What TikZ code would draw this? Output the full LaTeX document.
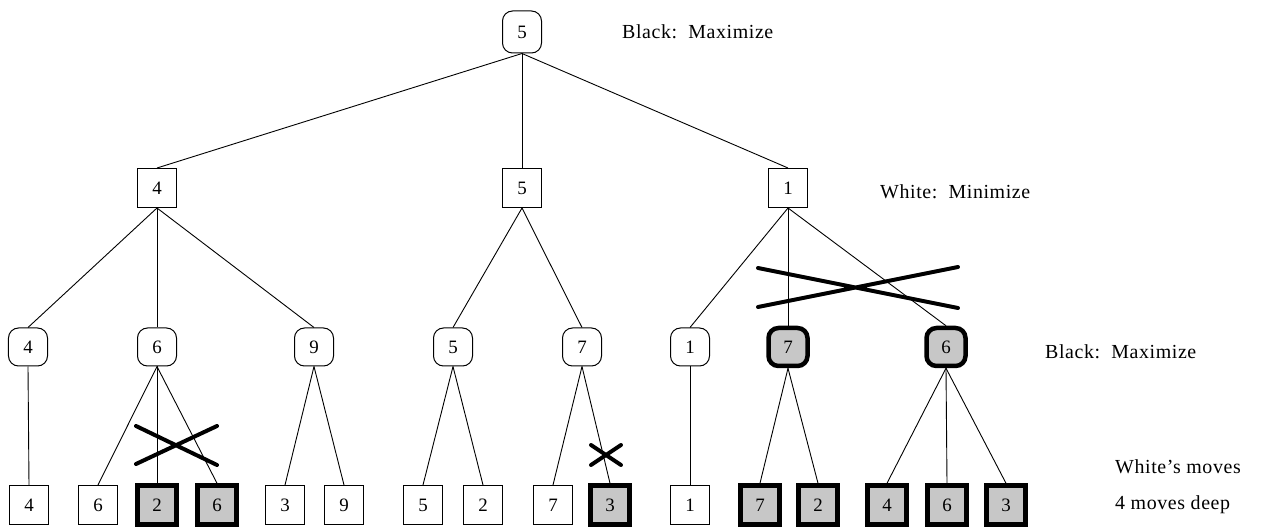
\documentclass[tikz,border=0pt]{standalone}
\usepackage{fontspec}
\setmainfont{Liberation Serif}
\begin{document}
\begin{tikzpicture}[x=1bp,y=-1bp,
  every node/.style={font=\fontsize{19}{22}\selectfont, inner sep=0pt},
  minbox/.style={draw, line width=1bp, minimum width=39bp, minimum height=39bp},
  maxbox/.style={draw, line width=1bp, rounded corners=10bp, minimum width=39bp, minimum height=38bp},
  hot/.style={line width=4.5bp, fill=black!22},
  edge/.style={line width=0.9bp},
  cross/.style={line width=4bp, line cap=round},
  lbl/.style={anchor=west, font=\fontsize{20}{24}\selectfont\addfontfeature{LetterSpace=3}}]
\useasboundingbox (0,0) rectangle (1271,527);

% root: Black to move
\node[maxbox, minimum height=42bp] (r) at (522,32) {5};

% White replies
\node[minbox] (a) at (157,188) {4};
\node[minbox] (b) at (522,188) {5};
\node[minbox] (c) at (788,188) {1};

% Black replies
\node[maxbox] (a1) at (28,347) {4};
\node[maxbox] (a2) at (157,347) {6};
\node[maxbox] (a3) at (314,347) {9};
\node[maxbox] (b1) at (453,347) {5};
\node[maxbox] (b2) at (582,347) {7};
\node[maxbox] (c1) at (690,347) {1};
\node[maxbox, hot] (c2) at (788,347) {7};
\node[maxbox, hot] (c3) at (946,347) {6};

% White's final moves
\node[minbox] (l1) at (29,505) {4};
\node[minbox] (l2) at (98,505) {6};
\node[minbox, hot] (l3) at (157,505) {2};
\node[minbox, hot] (l4) at (217,505) {6};
\node[minbox] (l5) at (285,505) {3};
\node[minbox] (l6) at (344,505) {9};
\node[minbox] (l7) at (423,505) {5};
\node[minbox] (l8) at (483,505) {2};
\node[minbox] (l9) at (553,505) {7};
\node[minbox, hot] (l10) at (610,505) {3};
\node[minbox] (l11) at (690,505) {1};
\node[minbox, hot] (l12) at (760,505) {7};
\node[minbox, hot] (l13) at (818,505) {2};
\node[minbox, hot] (l14) at (887,505) {4};
\node[minbox, hot] (l15) at (947,505) {6};
\node[minbox, hot] (l16) at (1006,505) {3};

% tree edges
\foreach \p/\k in {r/a, r/b, r/c,
                   a/a1, a/a2, a/a3, b/b1, b/b2, c/c1, c/c2, c/c3,
                   a1/l1, a2/l2, a2/l3, a2/l4, a3/l5, a3/l6,
                   b1/l7, b1/l8, b2/l9, b2/l10, c1/l11,
                   c2/l12, c2/l13, c3/l14, c3/l15, c3/l16}
  \draw[edge] (\p.south) -- (\k.north);

% pruned branches
\draw[cross] (758,268) -- (958,308) (758,307) -- (958,267);
\draw[cross] (136,426) -- (217,465) (136,464) -- (217,426);
\draw[cross] (591,445) -- (621,465) (591,465) -- (621,445);

% level captions
\node[lbl] (t0) at (622,32) {Black:\ \ Maximize};
\node[lbl] (t1) at (880,192) {White:\ \ Minimize};
\node[lbl] (t2) at (1045,352) {Black:\ \ Maximize};
\node[lbl] (t3) at (1115,467) {White’s moves};
\node[lbl] (t4) at (1115,505) {4 moves deep};
\end{tikzpicture}
\end{document}
